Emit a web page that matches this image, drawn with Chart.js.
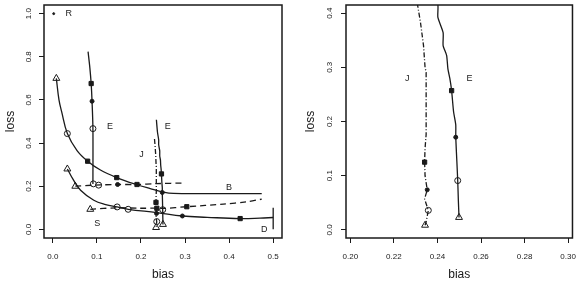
<!DOCTYPE html>
<html>
<head>
<meta charset="utf-8">
<script src="https://cdn.jsdelivr.net/npm/chart.js@4.4.1/dist/chart.umd.min.js"></script>
<style>
  body { margin: 0; background: #fff; }
  canvas { position: absolute; top: 0; }
  #left { left: 0; }
  #right { left: 300px; }
</style>
</head>
<body>
<canvas id="left" width="300" height="281"></canvas>
<canvas id="right" width="285" height="281"></canvas>
<script>
// ---- data ----
// upper solid curve (B)
const bCurveX = [0.008, 0.014, 0.020, 0.033, 0.055, 0.079, 0.108, 0.145, 0.189, 0.221, 0.251, 0.274, 0.35, 0.474];
const bCurveY = [0.70, 0.60, 0.546, 0.444, 0.365, 0.316, 0.275, 0.240, 0.208, 0.189, 0.173, 0.167, 0.166, 0.166];
// lower solid curve (S ... D)
const dCurveX = [0.033, 0.045, 0.063, 0.093, 0.12, 0.146, 0.171, 0.236, 0.294, 0.35, 0.425, 0.47, 0.5];
const dCurveY = [0.28, 0.235, 0.181, 0.135, 0.115, 0.104, 0.093, 0.078, 0.062, 0.056, 0.050, 0.052, 0.055];
// D end bar
const dBarX = [0.5, 0.5];
const dBarY = [0.0, 0.10];
// left E (solid, near vertical)
const e1X = [0.080, 0.084, 0.087, 0.089, 0.091, 0.091];
const e1Y = [0.824, 0.75, 0.676, 0.594, 0.467, 0.21];
// upper dashed line
const dash1X = [0.051, 0.093, 0.147, 0.191, 0.235, 0.30];
const dash1Y = [0.200, 0.205, 0.208, 0.208, 0.212, 0.215];
// lower dashed line
const dash2X = [0.085, 0.145, 0.198, 0.236, 0.251, 0.304, 0.387, 0.44, 0.474];
const dash2Y = [0.093, 0.100, 0.098, 0.098, 0.097, 0.105, 0.117, 0.128, 0.140];
// right E (solid)
const eX = [0.235, 0.2375, 0.2402, 0.2402, 0.2426, 0.2426, 0.2442, 0.2448, 0.2457, 0.2465, 0.2474, 0.2484, 0.2484, 0.2489, 0.2493, 0.2496, 0.2499];
const eY = [0.508, 0.45, 0.415, 0.392, 0.364, 0.340, 0.322, 0.297, 0.279, 0.257, 0.218, 0.194, 0.171, 0.127, 0.091, 0.054, 0.023];
// J (dash-dot)
const jX = [0.2307, 0.2322, 0.2336, 0.2343, 0.2348, 0.2348, 0.2343, 0.2341, 0.2343, 0.2353, 0.2341, 0.2358, 0.2348, 0.2343];
const jY = [0.419, 0.383, 0.340, 0.300, 0.291, 0.176, 0.150, 0.125, 0.100, 0.074, 0.057, 0.036, 0.0146, 0.0086];

// markers on the left-only curves
const triX = [0.008, 0.033, 0.051, 0.085];
const triY = [0.70, 0.28, 0.200, 0.093];
const circX = [0.033, 0.091, 0.092, 0.104, 0.146, 0.171];
const circY = [0.444, 0.467, 0.211, 0.205, 0.104, 0.093];
const squareX = [0.079, 0.145, 0.191, 0.087, 0.425, 0.236, 0.304];
const squareY = [0.316, 0.240, 0.208, 0.676, 0.050, 0.098, 0.105];
const dotX = [0.147, 0.089, 0.294];
const dotY = [0.208, 0.594, 0.062];
const rDotX = [0.002];
const rDotY = [1.0];
// markers on E and J (both panels)
const ejTriX = [0.2499, 0.2343];
const ejTriY = [0.023, 0.0086];
const ejCircX = [0.2493, 0.2358];
const ejCircY = [0.091, 0.036];
const ejSquareX = [0.2465, 0.2341];
const ejSquareY = [0.257, 0.125];
const ejDotX = [0.2484, 0.2353];
const ejDotY = [0.171, 0.074];

// text labels
const leftNotes = ['R', 'E', 'E', 'J', 'B', 'S', 'D'];
const leftNoteX = [0.036, 0.13, 0.261, 0.201, 0.40, 0.101, 0.48];
const leftNoteY = [1.0, 0.477, 0.477, 0.348, 0.196, 0.026, 0.0];
const rightNotes = ['J', 'E'];
const rightNoteX = [0.2261, 0.2547];
const rightNoteY = [0.279, 0.279];

// ticks
const leftXTicks = [0.0, 0.1, 0.2, 0.3, 0.4, 0.5];
const leftYTicks = [0.0, 0.2, 0.4, 0.6, 0.8, 1.0];
const rightXTicks = [0.20, 0.22, 0.24, 0.26, 0.28, 0.30];
const rightYTicks = [0.0, 0.1, 0.2, 0.3, 0.4];

const ink = '#1a1a1a';
const narrow = '"Liberation Sans Narrow", "Liberation Sans", Arial, sans-serif';
const regular = '"Liberation Sans", Arial, sans-serif';
const pts = (xs, ys) => xs.map((x, i) => ({x: x, y: ys[i]}));

const line = (xs, ys, dash, tension) => ({
  data: pts(xs, ys), showLine: true, pointRadius: 0, borderColor: ink,
  borderWidth: 1.3, borderDash: dash, tension: tension
});
const marks = (xs, ys, style, radius, filled) => ({
  data: pts(xs, ys), showLine: false, pointStyle: style, pointRadius: radius,
  borderColor: ink, borderWidth: 1, backgroundColor: filled ? ink : '#fff'
});

const framePlugin = {
  id: 'frame',
  afterDraw(chart, args, opts) {
    const {ctx, chartArea: a, scales: {x, y}} = chart;
    ctx.save();
    ctx.strokeStyle = ink;
    ctx.lineWidth = 1.5;
    ctx.strokeRect(a.left, a.top, a.right - a.left, a.bottom - a.top);
    ctx.fillStyle = ink;
    ctx.font = '8px ' + narrow;
    ctx.textAlign = 'center';
    ctx.textBaseline = 'middle';
    y.ticks.forEach(t => {
      ctx.save();
      ctx.translate(a.left - opts.labelGap, y.getPixelForValue(t.value));
      ctx.rotate(-Math.PI / 2);
      ctx.fillText(t.value.toFixed(1), 0, 0);
      ctx.restore();
    });
    ctx.font = '9px ' + regular;
    opts.notes.forEach((s, i) => {
      ctx.fillText(s, x.getPixelForValue(opts.noteX[i]), y.getPixelForValue(opts.noteY[i]));
    });
    ctx.restore();
  }
};

const addChart = (id, datasets, xr, yr, xTicks, yTicks, digits, yWidth, padRight, notes) => {
  const tickFont = {family: narrow, size: 8};
  const titleFont = {family: regular, size: 12};
  new Chart(document.getElementById(id), {
    type: 'scatter',
    data: {datasets: datasets},
    options: {
      responsive: false,
      animation: false,
      layout: {padding: {top: 2, right: padRight, left: 0, bottom: 0}},
      plugins: {legend: {display: false}, tooltip: {enabled: false}, frame: notes},
      scales: {
        x: {
          type: 'linear', min: xr[0], max: xr[1],
          afterBuildTicks: s => { s.ticks = xTicks.map(v => ({value: v})); },
          afterFit: s => { s.height = 43; },
          border: {display: false},
          grid: {drawOnChartArea: false, drawTicks: true, tickLength: 5, color: ink},
          ticks: {font: tickFont, color: ink, padding: 9, maxRotation: 0, callback: v => v.toFixed(digits)},
          title: {display: true, text: 'bias', font: titleFont, color: ink, padding: {top: 0, bottom: -1}}
        },
        y: {
          type: 'linear', min: yr[0], max: yr[1],
          afterBuildTicks: s => { s.ticks = yTicks.map(v => ({value: v})); },
          afterFit: s => { s.width = yWidth; },
          border: {display: false},
          grid: {drawOnChartArea: false, drawTicks: true, tickLength: 5, color: ink},
          ticks: {display: false},
          title: {display: true, text: 'loss', font: titleFont, color: ink, padding: {top: 3, bottom: 0}}
        }
      }
    },
    plugins: [framePlugin]
  });
};

const ejMarks = () => [
  marks(ejTriX, ejTriY, 'triangle', 4, false),
  marks(ejCircX, ejCircY, 'circle', 3, false),
  marks(ejSquareX, ejSquareY, 'rect', 3, true),
  marks(ejDotX, ejDotY, 'circle', 2, true)
];

const leftSets = [
  line(bCurveX, bCurveY, [], 0.4),
  line(dCurveX, dCurveY, [], 0.4),
  line(dBarX, dBarY, [], 0),
  line(e1X, e1Y, [], 0.3),
  line(dash1X, dash1Y, [6, 4], 0.3),
  line(dash2X, dash2Y, [6, 4], 0.3),
  line(eX, eY, [], 0.2),
  line(jX, jY, [5, 2, 1, 2], 0),
  marks(triX, triY, 'triangle', 4, false),
  marks(circX, circY, 'circle', 3, false),
  marks(squareX, squareY, 'rect', 3, true),
  marks(dotX, dotY, 'circle', 2, true),
  marks(rDotX, rDotY, 'circle', 1, true)
].concat(ejMarks());
const rightSets = [
  line(eX, eY, [], 0.2),
  line(jX, jY, [5, 2, 1, 2], 0)
].concat(ejMarks());

addChart('left', leftSets, [-0.02, 0.52], [-0.04, 1.04], leftXTicks, leftYTicks, 1, 44, 18,
  {notes: leftNotes, noteX: leftNoteX, noteY: leftNoteY, labelGap: 15});
addChart('right', rightSets, [0.198, 0.302], [-0.015, 0.415], rightXTicks, rightYTicks, 2, 46, 1,
  {notes: rightNotes, noteX: rightNoteX, noteY: rightNoteY, labelGap: 16.5});
</script>
</body>
</html>
